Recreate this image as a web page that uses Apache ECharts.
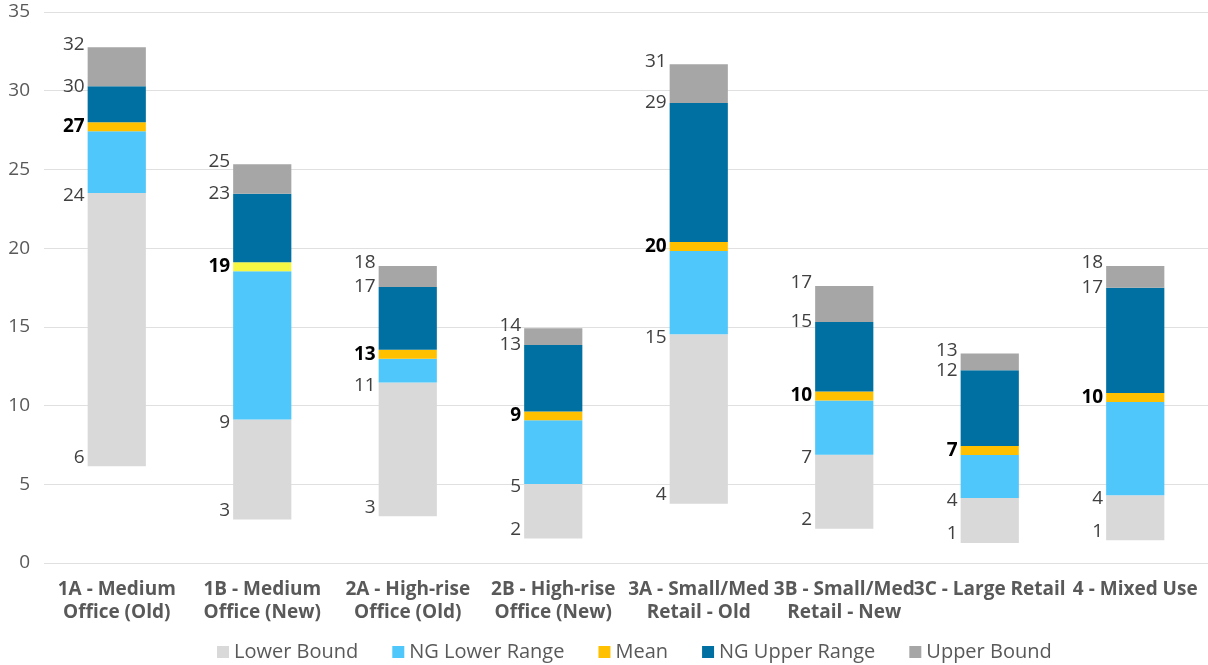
<!DOCTYPE html>
<html>
<head>
<meta charset="utf-8">
<script src="https://cdn.jsdelivr.net/npm/echarts@6/dist/echarts.min.js"></script>
<style>
  html, body { margin: 0; padding: 0; background: #ffffff; }
  #chart { width: 1208px; height: 665px; }
</style>
</head>
<body>
<div id="chart"></div>
<script>
// Building categories (x axis)
const categories = [
  '1A - Medium\nOffice (Old)',
  '1B - Medium\nOffice (New)',
  '2A - High-rise\nOffice (Old)',
  '2B - High-rise\nOffice (New)',
  '3A - Small/Med\nRetail - Old',
  '3B - Small/Med\nRetail - New',
  '3C - Large Retail',
  '4 - Mixed Use'
];

// Range boundaries per category
const lowerStart   = [6.14, 2.76, 2.97, 1.55, 3.77, 2.18, 1.27, 1.44];
const ngLowerStart = [23.5, 9.11, 11.46, 5.02, 14.53, 6.88, 4.13, 4.30];
const meanValues   = [27.42, 18.53, 12.98, 9.06, 19.82, 10.33, 6.86, 10.23];
const ngUpperEnd   = [29.71, 22.89, 16.96, 13.28, 28.65, 14.74, 11.67, 16.92];
const upperEnd     = [32.19, 24.76, 18.30, 14.34, 31.11, 17.03, 12.73, 18.30];

// Y axis ticks
const yTicks = { min: 0, max: 35, interval: 5 };

// Thickness of the stacked mean marker band
const MEAN_BAND = 0.57;

const FONT = 'Open Sans';
const colors = {
  lower: '#d9d9d9',
  ngLower: '#4fc7fa',
  mean: '#ffc000',
  meanAlt: '#f5f742',
  ngUpper: '#0070a2',
  upper: '#a6a6a6'
};

const diff = (a, b) => a.map((v, i) => +(v - b[i]).toFixed(4));

const numLabel = (values, position, extra) => Object.assign({
  show: true,
  position: position,
  align: 'right',
  verticalAlign: 'middle',
  fontFamily: FONT,
  fontSize: 19,
  color: '#404040',
  formatter: p => String(Math.round(values[p.dataIndex]))
}, extra || {});

const chart = echarts.init(document.getElementById('chart'), null, { renderer: 'canvas' });

chart.setOption({
  animation: false,
  textStyle: { fontFamily: FONT },
  grid: { left: 44, right: 0, top: 12, bottom: 102, containLabel: false },
  legend: {
    data: ['Lower Bound', 'NG Lower Range', 'Mean', 'NG Upper Range', 'Upper Bound'],
    left: 212,
    top: 637,
    icon: 'rect',
    itemWidth: 12,
    itemHeight: 12,
    itemGap: 34,
    textStyle: { fontFamily: FONT, fontSize: 20, color: '#595959' }
  },
  xAxis: {
    type: 'category',
    data: categories,
    axisLine: { show: false },
    axisTick: { show: false },
    axisLabel: {
      interval: 0,
      margin: 15,
      fontFamily: FONT,
      fontSize: 19,
      fontWeight: 'bold',
      lineHeight: 23,
      color: '#595959'
    }
  },
  yAxis: {
    type: 'value',
    min: yTicks.min,
    max: yTicks.max,
    interval: yTicks.interval,
    axisLine: { show: false },
    axisTick: { show: false },
    axisLabel: { fontFamily: FONT, fontSize: 19, color: '#595959', margin: 14 },
    splitLine: { lineStyle: { color: '#e0e0e0', width: 1 } }
  },
  series: [
    {
      name: 'base',
      type: 'bar',
      stack: 'range',
      barWidth: '40%',
      data: lowerStart,
      itemStyle: { color: 'rgba(0,0,0,0)' },
      label: numLabel(lowerStart, [-3, -9]),
      silent: true
    },
    {
      name: 'Lower Bound',
      type: 'bar',
      stack: 'range',
      data: diff(ngLowerStart, lowerStart),
      itemStyle: { color: colors.lower },
      label: numLabel(ngLowerStart, [-3, 3])
    },
    {
      name: 'NG Lower Range',
      type: 'bar',
      stack: 'range',
      data: diff(meanValues, ngLowerStart),
      itemStyle: { color: colors.ngLower }
    },
    {
      name: 'Mean',
      type: 'bar',
      stack: 'range',
      data: meanValues.map((v, i) => i === 1
        ? { value: MEAN_BAND, itemStyle: { color: colors.meanAlt } }
        : MEAN_BAND),
      itemStyle: { color: colors.mean },
      label: numLabel(meanValues, 'left', {
        align: null, verticalAlign: null,
        distance: 3, fontWeight: 'bold', color: '#000000'
      })
    },
    {
      name: 'NG Upper Range',
      type: 'bar',
      stack: 'range',
      data: diff(ngUpperEnd, meanValues),
      itemStyle: { color: colors.ngUpper },
      label: numLabel(ngUpperEnd, [-3, 0])
    },
    {
      name: 'Upper Bound',
      type: 'bar',
      stack: 'range',
      data: diff(upperEnd, ngUpperEnd),
      itemStyle: { color: colors.upper },
      label: numLabel(upperEnd, [-3, -3])
    }
  ]
});
</script>
</body>
</html>
